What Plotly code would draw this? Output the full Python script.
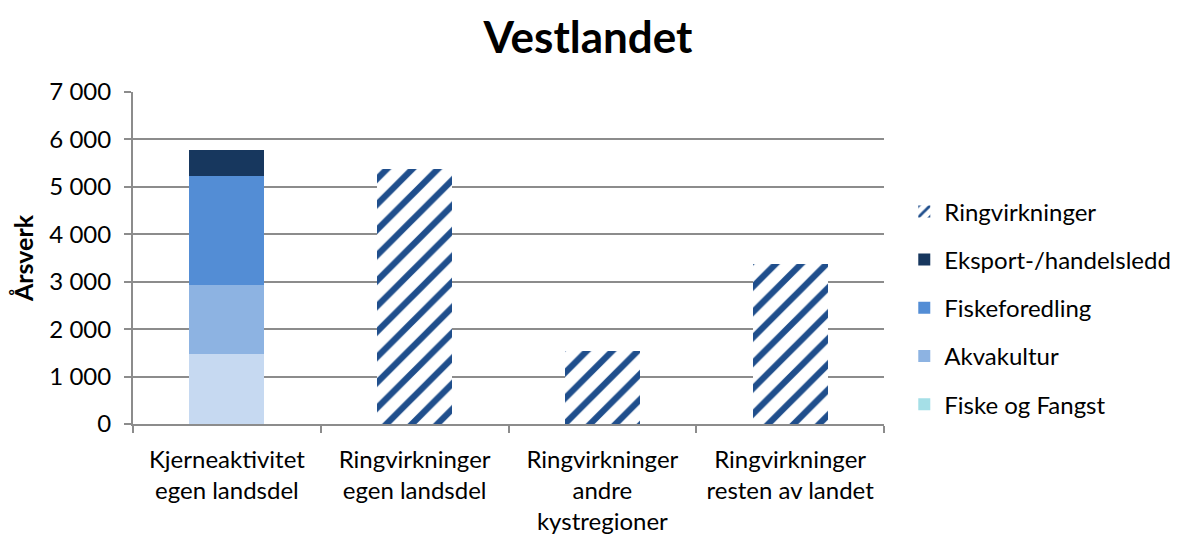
import plotly.graph_objects as go

categories = [
    "Kjerneaktivitet<br>egen landsdel",
    "Ringvirkninger<br>egen landsdel",
    "Ringvirkninger<br>andre<br>kystregioner",
    "Ringvirkninger<br>resten av landet",
]
fiske_fangst = [1470, None, None, None]
akvakultur = [1460, None, None, None]
fiskeforedling = [2305, None, None, None]
eksport = [550, None, None, None]
ringvirkninger = [None, 5380, 1530, 3370]
y_ticks = [0, 1000, 2000, 3000, 4000, 5000, 6000, 7000]

FONT = "Lato, 'Open Sans', sans-serif"
FS = 24
fig = go.Figure()

fig.add_trace(go.Bar(x=categories, y=fiske_fangst, name="Fiske og Fangst",
                     marker=dict(color="#c6d9f1", line=dict(width=0)),
                     showlegend=False, legendgroup="g1", legendrank=6))
fig.add_trace(go.Bar(x=[categories[0]], y=[None], name="Fiske og Fangst",
                     marker=dict(color="#a5dfe7", line=dict(width=0)),
                     legendgroup="g1b", legendrank=5))
fig.add_trace(go.Bar(x=categories, y=akvakultur, name="Akvakultur",
                     marker=dict(color="#8db3e2", line=dict(width=0)),
                     legendgroup="g2", legendrank=4))
fig.add_trace(go.Bar(x=categories, y=fiskeforedling, name="Fiskeforedling",
                     marker=dict(color="#538dd5", line=dict(width=0)),
                     legendgroup="g3", legendrank=3))
fig.add_trace(go.Bar(x=categories, y=eksport, name="Eksport-/handelsledd",
                     marker=dict(color="#17375e", line=dict(width=0)),
                     legendgroup="g4", legendrank=2))
fig.add_trace(go.Bar(x=categories, y=ringvirkninger, name="Ringvirkninger",
                     marker=dict(color="white", line=dict(width=0),
                                 pattern=dict(shape="/", fgcolor="#1f4e8c", bgcolor="white",
                                              size=18, solidity=0.35, fillmode="replace")),
                     legendgroup="g5", legendrank=1))

fig.update_layout(
    width=1170, height=528,
    barmode="stack", bargap=0.6,
    separators=", ",
    paper_bgcolor="white", plot_bgcolor="white",
    margin=dict(l=125, r=294, t=84, b=112, autoexpand=False),
    font=dict(family=FONT, size=FS, color="#000000"),
    title=dict(text="<b>Vestlandet</b>", x=0.4957, xref="container", y=0.944, yref="container",
               yanchor="middle", xanchor="center", font=dict(size=44, family=FONT)),
    legend=dict(traceorder="grouped", tracegroupgap=14, x=1.027, xanchor="left",
                y=0.35, yanchor="middle", font=dict(size=FS), itemwidth=30),
    xaxis=dict(showline=True, linecolor="#8c8c8c", linewidth=2, ticks="outside",
               tickson="boundaries", ticklen=7, tickcolor="#8c8c8c", tickwidth=2,
               tickfont=dict(size=FS), ticklabelstandoff=13, automargin=False),
    yaxis=dict(range=[0, 7000], tickvals=y_ticks, tickformat=",d", showline=True,
               linecolor="#8c8c8c", linewidth=2, ticks="outside", ticklen=7,
               tickcolor="#8c8c8c", tickwidth=2, gridcolor="#8c8c8c", gridwidth=2,
               zeroline=False, tickfont=dict(size=FS), ticklabelstandoff=8,
               automargin=False,
               title=dict(text="<b>Årsverk</b>", font=dict(size=25), standoff=10)),
)

fig.write_html("out.html")
